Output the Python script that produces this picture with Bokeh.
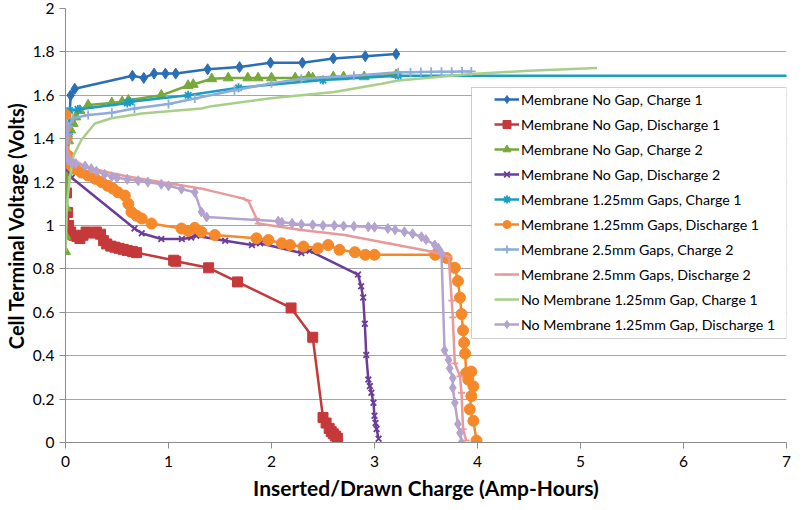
from bokeh.plotting import figure
from bokeh.models import (Legend, LegendItem, FixedTicker, CustomJSTickFormatter,
                          Range1d, BoxAnnotation)
from bokeh.embed import file_html
from bokeh.resources import INLINE

# ---------------- data ----------------
series_names = [
    "Membrane No Gap, Charge 1",
    "Membrane No Gap, Discharge 1",
    "Membrane No Gap, Charge 2",
    "Membrane No Gap, Discharge 2",
    "Membrane 1.25mm Gaps, Charge 1",
    "Membrane 1.25mm Gaps, Discharge 1",
    "Membrane 2.5mm Gaps, Charge 2",
    "Membrane 2.5mm Gaps, Discharge 2",
    "No Membrane 1.25mm Gap, Charge 1",
    "No Membrane 1.25mm Gap, Discharge 1",
]

s1_x = [0.0, 0.03, 0.05, 0.09, 0.65, 0.76, 0.86, 0.97, 1.07, 1.38, 1.69, 1.99, 2.30, 2.60, 2.91, 3.21]
s1_y = [1.30, 1.41, 1.60, 1.63, 1.69, 1.68, 1.70, 1.70, 1.70, 1.72, 1.73, 1.75, 1.75, 1.77, 1.78, 1.79]

s2_x = [0.0, 0.005, 0.01, 0.02, 0.03, 0.05, 0.08, 0.11, 0.14, 0.17, 0.2, 0.25, 0.3, 0.34, 0.37, 0.4,
        0.44, 0.48, 0.52, 0.56, 0.6, 0.65, 0.69, 1.05, 1.07, 1.39, 1.67, 2.19, 2.40, 2.50, 2.53,
        2.56, 2.58, 2.60, 2.62, 2.64]
s2_y = [1.40, 1.28, 1.15, 1.06, 1.00, 0.97, 0.955, 0.95, 0.94, 0.955, 0.97, 0.965, 0.97, 0.96, 0.93,
        0.915, 0.905, 0.90, 0.895, 0.89, 0.885, 0.88, 0.875, 0.84, 0.835, 0.805, 0.74, 0.62, 0.485,
        0.115, 0.09, 0.065, 0.05, 0.04, 0.03, 0.02]

s3_x = [0.0, 0.005, 0.01, 0.02, 0.03, 0.05, 0.075, 0.1, 0.14, 0.22, 0.45, 0.55, 0.61, 0.93, 1.19,
        1.24, 1.42, 1.58, 1.77, 1.87, 2.0, 2.23, 2.36, 2.4, 2.6, 2.7, 2.9, 3.21]
s3_y = [0.88, 0.95, 1.08, 1.25, 1.39, 1.44, 1.47, 1.50, 1.53, 1.555, 1.565, 1.57, 1.577, 1.60, 1.645,
        1.65, 1.676, 1.68, 1.68, 1.68, 1.68, 1.68, 1.685, 1.68, 1.685, 1.685, 1.685, 1.695]

s4_x = [0.0, 0.02, 0.06, 0.67, 0.74, 0.93, 1.13, 1.22, 1.27, 1.55, 1.81, 1.89, 2.29, 2.37, 2.84,
        2.87, 2.89, 2.906, 2.92, 2.94, 2.955, 2.97, 2.99, 3.00, 3.01, 3.02, 3.04]
s4_y = [1.30, 1.26, 1.22, 0.986, 0.964, 0.938, 0.938, 0.944, 0.953, 0.93, 0.91, 0.918, 0.873, 0.883,
        0.774, 0.72, 0.668, 0.547, 0.403, 0.29, 0.26, 0.229, 0.183, 0.123, 0.09, 0.062, 0.017]

s5_x = [0.0, 0.01, 0.02, 0.03, 0.04, 0.12, 0.60, 0.63, 1.19, 1.68, 2.5, 3.23, 7.5]
s5_y = [1.38, 1.45, 1.40, 1.42, 1.53, 1.535, 1.565, 1.57, 1.60, 1.635, 1.67, 1.69, 1.69]

s6_x = [0.0, 0.005, 0.01, 0.03, 0.06, 0.10, 0.155, 0.22, 0.29, 0.35, 0.41, 0.46, 0.51, 0.576, 0.61,
        0.64, 0.69, 0.74, 0.835, 1.126, 1.19, 1.255, 1.32, 1.45, 1.854, 1.97, 2.10, 2.18, 2.31,
        2.45, 2.55, 2.66, 2.81, 2.91, 3.0, 3.59, 3.70, 3.78, 3.81, 3.83, 3.845, 3.86, 3.87, 3.88,
        3.89, 3.91, 3.94, 3.96, 3.94, 3.925, 3.96, 3.99]
s6_y = [1.51, 1.45, 1.40, 1.32, 1.274, 1.26, 1.244, 1.23, 1.215, 1.20, 1.183, 1.17, 1.153, 1.138,
        1.10, 1.062, 1.045, 1.032, 1.009, 0.986, 0.975, 0.989, 0.97, 0.956, 0.941, 0.933, 0.918,
        0.91, 0.903, 0.895, 0.91, 0.888, 0.877, 0.865, 0.865, 0.865, 0.85, 0.805, 0.744, 0.668,
        0.592, 0.517, 0.46, 0.41, 0.32, 0.29, 0.327, 0.259, 0.214, 0.153, 0.10, 0.009]

s7_x = [0.0, 0.01, 0.02, 0.03, 0.075, 0.22, 0.45, 0.67, 1.0, 1.255, 1.64, 2.0, 2.29, 2.8, 3.23,
        3.35, 3.45, 3.55, 3.65, 3.75, 3.85, 3.94]
s7_y = [1.30, 1.38, 1.42, 1.456, 1.494, 1.509, 1.52, 1.539, 1.56, 1.585, 1.623, 1.655, 1.676, 1.69,
        1.706, 1.706, 1.707, 1.708, 1.709, 1.709, 1.71, 1.71]

s8_x = [0.0, 0.05, 0.2, 0.5, 0.8, 1.06, 1.32, 1.71, 1.774, 1.854, 1.87, 2.29, 2.71, 3.13, 3.55,
        3.72, 3.75, 3.76, 3.78, 3.83, 3.845, 3.86, 3.89]
s8_y = [1.36, 1.31, 1.27, 1.235, 1.21, 1.19, 1.17, 1.126, 1.115, 1.032, 1.009, 0.979, 0.956, 0.918,
        0.88, 0.857, 0.654, 0.577, 0.365, 0.305, 0.229, 0.062, 0.009]

s9_x = [0.0, 0.005, 0.01, 0.02, 0.04, 0.075, 0.155, 0.285, 0.447, 0.74, 1.0, 1.32, 1.42, 1.97,
        2.61, 3.07, 3.23, 3.94, 4.5, 5.16]
s9_y = [0.88, 0.95, 1.05, 1.12, 1.21, 1.32, 1.395, 1.47, 1.494, 1.516, 1.527, 1.539, 1.55, 1.585,
        1.615, 1.653, 1.668, 1.698, 1.713, 1.726]

s10_x = [0.0, 0.005, 0.01, 0.03, 0.06, 0.1, 0.19, 0.25, 0.3, 0.38, 0.45, 0.5, 0.6, 0.706, 0.8, 0.93,
         1.0, 1.126, 1.255, 1.32, 1.37, 2.065, 2.1, 2.2, 2.29, 2.4, 2.5, 2.61, 2.7, 2.8, 2.94, 3.0,
         3.13, 3.2, 3.29, 3.37, 3.456, 3.5, 3.585, 3.62, 3.65, 3.68, 3.72, 3.73, 3.76, 3.76, 3.78,
         3.81, 3.83, 3.845]
s10_y = [1.47, 1.40, 1.32, 1.30, 1.29, 1.285, 1.274, 1.262, 1.25, 1.236, 1.225, 1.22, 1.213, 1.206,
         1.2, 1.19, 1.183, 1.168, 1.153, 1.062, 1.039, 1.02, 1.015, 1.01, 1.005, 1.003, 1.0, 1.0,
         0.998, 0.997, 0.994, 0.992, 0.986, 0.98, 0.971, 0.962, 0.948, 0.935, 0.91, 0.895, 0.873,
         0.425, 0.38, 0.342, 0.297, 0.252, 0.183, 0.085, 0.044, 0.0]

x_ticks = [0, 1, 2, 3, 4, 5, 6, 7]
y_ticks = [0, 0.2, 0.4, 0.6, 0.8, 1.0, 1.2, 1.4, 1.6, 1.8, 2.0]

# ---------------- styling ----------------
xs = [s1_x, s2_x, s3_x, s4_x, s5_x, s6_x, s7_x, s8_x, s9_x, s10_x]
ys = [s1_y, s2_y, s3_y, s4_y, s5_y, s6_y, s7_y, s8_y, s9_y, s10_y]
colors = ["#2A6EB5", "#C5393A", "#77A83A", "#6A3D9A", "#1B9CC4",
          "#F5892A", "#8EACD9", "#E8999A", "#A8CF8A", "#B3A3CE"]
markers = ["diamond", "square", "triangle", "x", "asterisk",
           "circle", "cross", "dash", None, "diamond"]
msizes = [11, 10, 10, 8, 9, 11, 9, 7, 0, 10]

FONT = "Lato"

p = figure(width=795, height=502, output_backend="svg", toolbar_location=None,
           x_range=Range1d(0, 7), y_range=Range1d(0, 2),
           min_border_left=64, min_border_right=9, min_border_top=8, min_border_bottom=60)
p.outline_line_color = None
p.background_fill_color = "white"
p.border_fill_color = "white"

p.xgrid.visible = False
p.ygrid.grid_line_color = "#A6A6A6"
p.ygrid.grid_line_width = 1

for ax in (p.xaxis[0], p.yaxis[0]):
    ax.axis_line_color = "#8C8C8C"
    ax.major_tick_line_color = "#8C8C8C"
    ax.major_tick_out = 6
    ax.major_tick_in = 0
    ax.minor_tick_line_color = None
    ax.major_label_text_font = FONT
    ax.major_label_text_font_size = "15.5px"
    ax.major_label_text_color = "#000000"
    ax.axis_label_text_font = FONT
    ax.axis_label_text_font_style = "bold"
    ax.axis_label_text_color = "#000000"

p.xaxis.axis_label_text_font_size = "21px"
p.yaxis.axis_label_text_font_size = "20px"
p.xaxis.ticker = FixedTicker(ticks=x_ticks)
p.yaxis.ticker = FixedTicker(ticks=y_ticks)
p.yaxis.formatter = CustomJSTickFormatter(code="return String(Math.round(tick*10)/10);")
p.xaxis.major_label_standoff = 7
p.yaxis.major_label_standoff = 5
p.xaxis.axis_label_standoff = 5
p.yaxis.axis_label_standoff = 2
p.xaxis.axis_label = "Inserted/Drawn Charge (Amp-Hours)"
p.yaxis.axis_label = "Cell Terminal Voltage (Volts)"

# legend frame (white box with grey border)
box = BoxAnnotation(left=406, right=721, bottom=104, top=355,
                    left_units="screen", right_units="screen",
                    bottom_units="screen", top_units="screen",
                    fill_color="white", fill_alpha=1.0,
                    line_color="#606060", line_width=1, level="annotation")
p.add_layout(box)

items = []
for name, x, y, c, m, s in zip(series_names, xs, ys, colors, markers, msizes):
    rs = [p.line(x, y, line_color=c, line_width=2.5)]
    if m is not None:
        lw = 1.8 if m in ("x", "asterisk", "cross", "dash") else 1
        rs.append(p.scatter(x, y, marker=m, size=s, fill_color=c, line_color=c, line_width=lw))
    items.append(LegendItem(label=name, renderers=rs))

legend = Legend(items=items, location=(426, 105), orientation="vertical",
                label_text_font=FONT, label_text_font_size="14.2px", label_text_color="#000000",
                glyph_width=25, glyph_height=20, label_height=20, label_standoff=2,
                spacing=5, padding=3, margin=0,
                border_line_alpha=0, background_fill_alpha=0)
p.add_layout(legend, "center")

open("out.html", "w").write(file_html(p, INLINE))
